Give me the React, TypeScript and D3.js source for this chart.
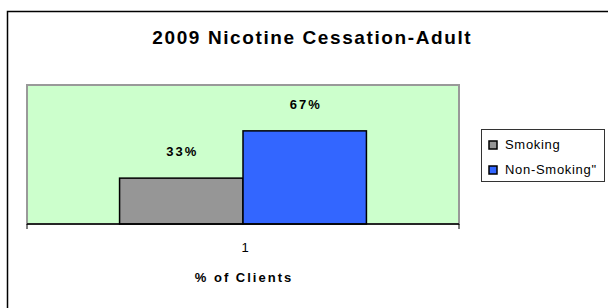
import React from 'react';
import * as d3 from 'd3';

// chart data
const categories = ['1'];
const seriesNames = ['Smoking', 'Non-Smoking"'];
const smokingValues = [33];
const nonSmokingValues = [67];
const seriesColors = ['#969696', '#3366FF'];
const yDomain = [0, 100];

const W = 608;
const H = 308;
const plot = { left: 27, top: 85, right: 459, bottom: 224 };
const font = 'Arial, "Liberation Sans", Helvetica, sans-serif';

const App = () => {
  const seriesValues = [smokingValues, nonSmokingValues];

  const x0 = d3.scaleBand()
    .domain(categories)
    .range([plot.left, plot.right]);

  // Excel style gap width of 75%
  const groupWidth = x0.bandwidth() / 1.75;
  const x1 = d3.scaleBand()
    .domain(seriesNames)
    .range([(x0.bandwidth() - groupWidth) / 2, (x0.bandwidth() + groupWidth) / 2]);

  const y = d3.scaleLinear()
    .domain(yDomain)
    .range([plot.bottom, plot.top]);

  const tickXs = [plot.left, ...categories.map(c => x0(c) + x0.bandwidth())];

  return (
    <svg width={W} height={H} style={{ position: 'absolute', left: 0, top: 0, fontFamily: font }}>
      <rect x={0} y={0} width={W} height={H} fill="#fff" />
      {/* chart border */}
      <rect x={7.5} y={11.5} width={700} height={400} fill="none" stroke="#000" strokeWidth={1.5} />

      <text x={312.3} y={44} textAnchor="middle" fontSize={19} fontWeight="bold" letterSpacing={1.6} fill="#000">
        2009 Nicotine Cessation-Adult
      </text>

      {/* plot area */}
      <rect
        x={plot.left}
        y={plot.top}
        width={plot.right - plot.left}
        height={plot.bottom - plot.top}
        fill="#CCFFCC"
        stroke="#999"
        strokeWidth={2}
      />

      {/* bars */}
      {categories.map((c, ci) => (
        <g key={c} transform={`translate(${x0(c)},0)`}>
          {seriesNames.map((s, si) => {
            const v = seriesValues[si][ci];
            return (
              <g key={s}>
                <rect
                  x={x1(s)}
                  y={y(v)}
                  width={x1.bandwidth()}
                  height={y(0) - y(v)}
                  fill={seriesColors[si]}
                  stroke="#000"
                  strokeWidth={1.5}
                />
                <text
                  x={x1(s) + x1.bandwidth() / 2 + 1}
                  y={y(v) - 22}
                  textAnchor="middle"
                  fontSize={13}
                  fontWeight="bold"
                  letterSpacing={2}
                  fill="#000"
                >
                  {v}%
                </text>
              </g>
            );
          })}
        </g>
      ))}

      {/* x axis */}
      <line x1={plot.left} x2={plot.right} y1={plot.bottom} y2={plot.bottom} stroke="#000" strokeWidth={1.5} />
      {tickXs.map((tx, i) => (
        <line key={i} x1={tx} x2={tx} y1={plot.bottom} y2={plot.bottom + 5} stroke="#000" strokeWidth={1} />
      ))}
      {categories.map(c => (
        <text key={c} x={x0(c) + x0.bandwidth() / 2 + 2} y={252} textAnchor="middle" fontSize={13} fill="#000">
          {c}
        </text>
      ))}
      <text x={244} y={282} textAnchor="middle" fontSize={13} fontWeight="bold" letterSpacing={2} fill="#000">
        % of Clients
      </text>

      {/* legend */}
      <rect x={481.5} y={129.5} width={123} height={52} fill="#fff" stroke="#333" strokeWidth={1} />
      {seriesNames.map((s, i) => (
        <g key={s} transform={`translate(488.5,${140.5 + i * 25})`}>
          <rect x={0.5} y={0.5} width={8} height={8} fill={seriesColors[i]} stroke="#000" strokeWidth={1.5} />
          <text x={16.5} y={8.5} fontSize={13} letterSpacing={0.7} fill="#000">{s}</text>
        </g>
      ))}
    </svg>
  );
};

export default App;
